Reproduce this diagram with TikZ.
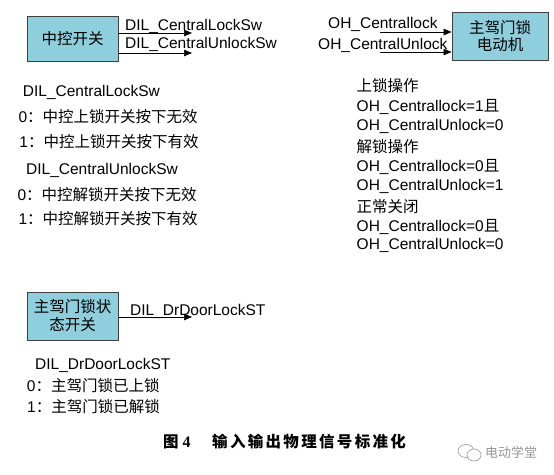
\documentclass[tikz,border=0pt]{standalone}
\usepackage{fontspec}
\setmainfont{Liberation Sans}
\newfontfamily\cjk[Scale=1.0]{Noto Sans CJK SC}
\newfontfamily\cjkcap{Noto Sans CJK SC}
\newfontfamily\capserif{Liberation Serif}
\usetikzlibrary{arrows.meta}
\definecolor{boxc}{RGB}{143,207,221}
\definecolor{wm}{RGB}{150,150,150}
\newcommand{\zh}[1]{{\cjk #1}}
\tikzset{
  box/.style={draw=black!75, fill=boxc, line width=0.8pt, inner sep=0pt, align=center},
  lbl/.style={anchor=west, inner sep=0pt},
  arr/.style={-{Triangle[length=8pt,width=6.5pt]}, line width=0.6pt},
}
\begin{document}
\begin{tikzpicture}[x=1pt,y=-1pt,font=\fontsize{15.5}{18}\selectfont]
\useasboundingbox (0,0) rectangle (554,474);
% boxes
\node[box, minimum width=91pt, minimum height=45pt] (b1) at (72.5,38.5) {\zh{中控开关}};
\node[box, minimum width=96pt, minimum height=48pt, font=\fontsize{15.5}{16.5}\selectfont] (b2) at (500,36) {\zh{主驾门锁}\\\zh{电动机}};
\node[box, minimum width=91pt, minimum height=48pt, font=\fontsize{15.5}{18}\selectfont] (b3) at (72.5,316) {\zh{主驾门锁状}\\\zh{态开关}};
% arrows
\coordinate (e1) at (192,33);
\coordinate (e2) at (192,53);
\draw[arr] (b1.east |- e1) -- (e1);
\draw[arr] (b1.east |- e2) -- (e2);
\coordinate (s1) at (380,32);
\coordinate (s2) at (380,52);
\draw[arr] (s1) -- (b2.west |- s1);
\draw[arr] (s2) -- (b2.west |- s2);
\coordinate (e3) at (192,317);
\draw[arr] (b3.east |- e3) -- (e3);
% arrow labels
\node[lbl] (l1) at (125,26) {DIL\_CentralLockSw};
\node[lbl] (l2) at (125,44) {DIL\_CentralUnlockSw};
\node[lbl] (l3) at (328,24) {OH\_Centrallock};
\node[lbl] (l4) at (318,45) {OH\_CentralUnlock};
\node[lbl] (l5) at (130,311) {DIL\_DrDoorLockST};
% left block
\node[lbl] (t1) at (22.7,92.3) {DIL\_CentralLockSw};
\node[lbl] (t2) at (18.3,117) {0\zh{：中控上锁开关按下无效}};
\node[lbl] (t3) at (19.3,141.5) {1\zh{：中控上锁开关按下有效}};
\node[lbl] (t4) at (26,170.5) {DIL\_CentralUnlockSw};
\node[lbl] (t5) at (17.3,194.3) {0\zh{：中控解锁开关按下无效}};
\node[lbl] (t6) at (18.3,218.3) {1\zh{：中控解锁开关按下有效}};
% right block
\node[lbl] (r1) at (356.5,86) {\zh{上锁操作}};
\node[lbl] (r2) at (356.5,106.5) {OH\_Centrallock=1\zh{且}};
\node[lbl] (r3) at (356.5,126.5) {OH\_CentralUnlock=0};
\node[lbl] (r4) at (356.5,146.5) {\zh{解锁操作}};
\node[lbl] (r5) at (356.5,166.5) {OH\_Centrallock=0\zh{且}};
\node[lbl] (r6) at (356.5,186.5) {OH\_CentralUnlock=1};
\node[lbl] (r7) at (356.5,206.5) {\zh{正常关闭}};
\node[lbl] (r8) at (356.5,226.5) {OH\_Centrallock=0\zh{且}};
\node[lbl] (r9) at (356.5,245.5) {OH\_CentralUnlock=0};
% bottom block
\node[lbl] (d1) at (35,365) {DIL\_DrDoorLockST};
\node[lbl] (d2) at (26.7,386) {0\zh{：主驾门锁已上锁}};
\node[lbl] (d3) at (27,407) {1\zh{：主驾门锁已解锁}};
% caption
\node[lbl, font=\fontsize{15.5}{18}\selectfont\bfseries] (c1) at (163,442) {\cjkcap 图\hspace{4pt}\capserif\fontsize{16}{18}\selectfont 4};
\node[lbl, font=\fontsize{15.5}{18}\selectfont\bfseries] (c2) at (212,442) {\cjkcap\addfontfeature{LetterSpace=15}输入输出物理信号标准化};
% watermark
\draw[wm, line width=0.6pt] (466,451) ellipse [x radius=8pt, y radius=6.5pt];
\draw[wm, line width=0.6pt, fill=white] (474,455) ellipse [x radius=7pt, y radius=6pt];
\node[lbl, text=wm, font=\fontsize{13}{15}\selectfont] (w1) at (485,452) {\cjkcap 电动学堂};
\end{tikzpicture}
\end{document}
